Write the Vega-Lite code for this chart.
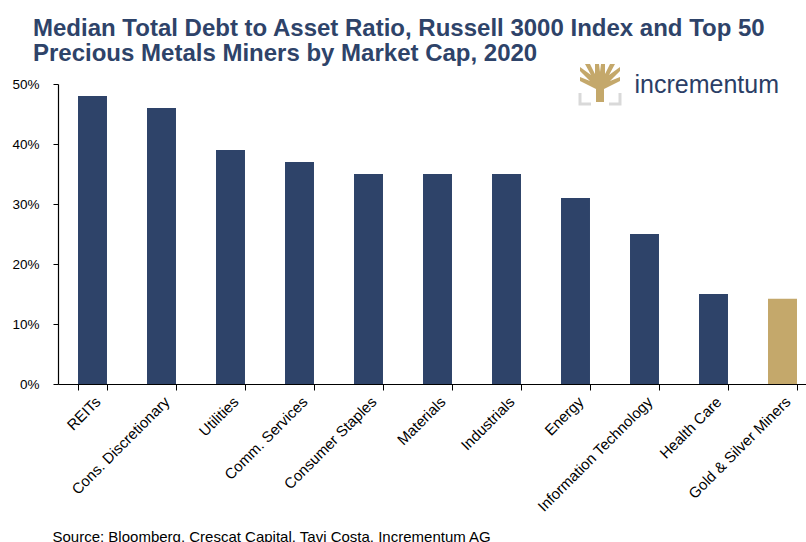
{
  "$schema": "https://vega.github.io/schema/vega-lite/v6.json",
  "width": 748,
  "height": 300,
  "autosize": {"type": "none"},
  "padding": {"left": 58, "top": 84, "right": 0, "bottom": 158},
  "background": "white",
  "config": {"view": {"stroke": null}, "font": "Liberation Sans"},
  "title": {
    "text": ["Median Total Debt to Asset Ratio, Russell 3000 Index and Top 50", "Precious Metals Miners by Market Cap, 2020"],
    "anchor": "start",
    "frame": "group",
    "dx": -25,
    "dy": 22,
    "offset": 20,
    "fontSize": 24,
    "lineHeight": 25,
    "font": "Liberation Sans",
    "fontWeight": "bold",
    "color": "#2E4369"
  },
  "datasets": {
    "debt": [
      {"sector": "REITs", "ratio": 0.48, "group": "Russell 3000"},
      {"sector": "Cons. Discretionary", "ratio": 0.46, "group": "Russell 3000"},
      {"sector": "Utilities", "ratio": 0.39, "group": "Russell 3000"},
      {"sector": "Comm. Services", "ratio": 0.37, "group": "Russell 3000"},
      {"sector": "Consumer Staples", "ratio": 0.35, "group": "Russell 3000"},
      {"sector": "Materials", "ratio": 0.35, "group": "Russell 3000"},
      {"sector": "Industrials", "ratio": 0.35, "group": "Russell 3000"},
      {"sector": "Energy", "ratio": 0.31, "group": "Russell 3000"},
      {"sector": "Information Technology", "ratio": 0.25, "group": "Russell 3000"},
      {"sector": "Health Care", "ratio": 0.15, "group": "Russell 3000"},
      {"sector": "Gold & Silver Miners", "ratio": 0.142, "group": "Miners"}
    ],
    "logo": [
      {"sector": "Information Technology", "ratio": 0.485, "label": "incrementum"}
    ],
    "icon": [
      {"sector": "Energy", "ratio": 0.5}
    ]
  },
  "layer": [
    {
      "data": {"name": "debt"},
      "mark": {"type": "bar"},
      "encoding": {
        "x": {
          "field": "sector",
          "type": "nominal",
          "sort": null,
          "scale": {
            "domain": ["REITs", "Cons. Discretionary", "Utilities", "Comm. Services", "Consumer Staples", "Materials", "Industrials", "Energy", "Information Technology", "Health Care", "Gold & Silver Miners"],
            "range": [0, 759],
            "paddingInner": 0.58,
            "paddingOuter": 0.29
          },
          "axis": {
            "title": "Source: Bloomberg, Crescat Capital, Tavi Costa, Incrementum AG",
            "titleAnchor": "start",
            "titleAlign": "left",
            "titleX": -6,
            "titleY": 157,
            "titleBaseline": "alphabetic",
            "titleFontSize": 15,
            "titleFontWeight": "normal",
            "titleColor": "black",
            "titleFont": "Liberation Sans",
            "labelAngle": -45,
            "labelFontSize": 15,
            "labelFont": "Liberation Sans",
            "labelColor": "black",
            "labelPadding": 4,
            "labelLimit": 0,
            "tickBand": "extent",
            "tickSize": 6,
            "tickColor": "black",
            "domainColor": "black",
            "domainWidth": 1.2
          }
        },
        "y": {
          "field": "ratio",
          "type": "quantitative",
          "scale": {"domain": [0, 0.5]},
          "axis": {
            "title": null,
            "format": ".0%",
            "values": [0, 0.1, 0.2, 0.3, 0.4, 0.5],
            "grid": false,
            "domainColor": "black",
            "domainWidth": 1.2,
            "tickColor": "black",
            "tickSize": 5,
            "labelFontSize": 13.5,
            "labelFont": "Liberation Sans",
            "labelColor": "black",
            "labelPadding": 14
          }
        },
        "color": {
          "field": "group",
          "type": "nominal",
          "scale": {"domain": ["Russell 3000", "Miners"], "range": ["#2E4369", "#C4A86B"]},
          "legend": null
        }
      }
    },
    {
      "data": {"name": "logo"},
      "mark": {"type": "text", "align": "left", "baseline": "alphabetic", "dx": -10, "fontSize": 25, "font": "Liberation Sans", "color": "#2B3E66"},
      "encoding": {
        "x": {"field": "sector", "type": "nominal"},
        "y": {"field": "ratio", "type": "quantitative"},
        "text": {"field": "label"}
      }
    },
    {
      "data": {"name": "icon"},
      "mark": {
        "type": "point",
        "filled": true,
        "color": "#C4A86B",
        "opacity": 1,
        "size": 1600,
        "xOffset": 24.5,
        "shape": "M -0.2 0.9 L -0.2 0.25 L -1 -0.15 L -1 -0.35 L -0.5 -0.15 L -1 -0.65 L -1 -0.85 L -0.45 -0.45 L -0.75 -1 L -0.5 -1 L -0.25 -0.5 L -0.25 -1 L -0.05 -1 L 0 -0.6 L 0.05 -1 L 0.25 -1 L 0.25 -0.5 L 0.5 -1 L 0.75 -1 L 0.45 -0.45 L 1 -0.85 L 1 -0.65 L 0.5 -0.15 L 1 -0.35 L 1 -0.15 L 0.2 0.25 L 0.2 0.9 Z"
      },
      "encoding": {
        "x": {"field": "sector", "type": "nominal"},
        "y": {"field": "ratio", "type": "quantitative"}
      }
    },
    {
      "data": {"name": "icon"},
      "mark": {
        "type": "point",
        "filled": false,
        "stroke": "#D9D9D9",
        "strokeWidth": 3,
        "opacity": 1,
        "size": 1600,
        "xOffset": 24.5,
        "shape": "M -1 0.45 L -1 1 L -0.45 1 M 0.45 1 L 1 1 L 1 0.45"
      },
      "encoding": {
        "x": {"field": "sector", "type": "nominal"},
        "y": {"field": "ratio", "type": "quantitative"}
      }
    }
  ]
}
